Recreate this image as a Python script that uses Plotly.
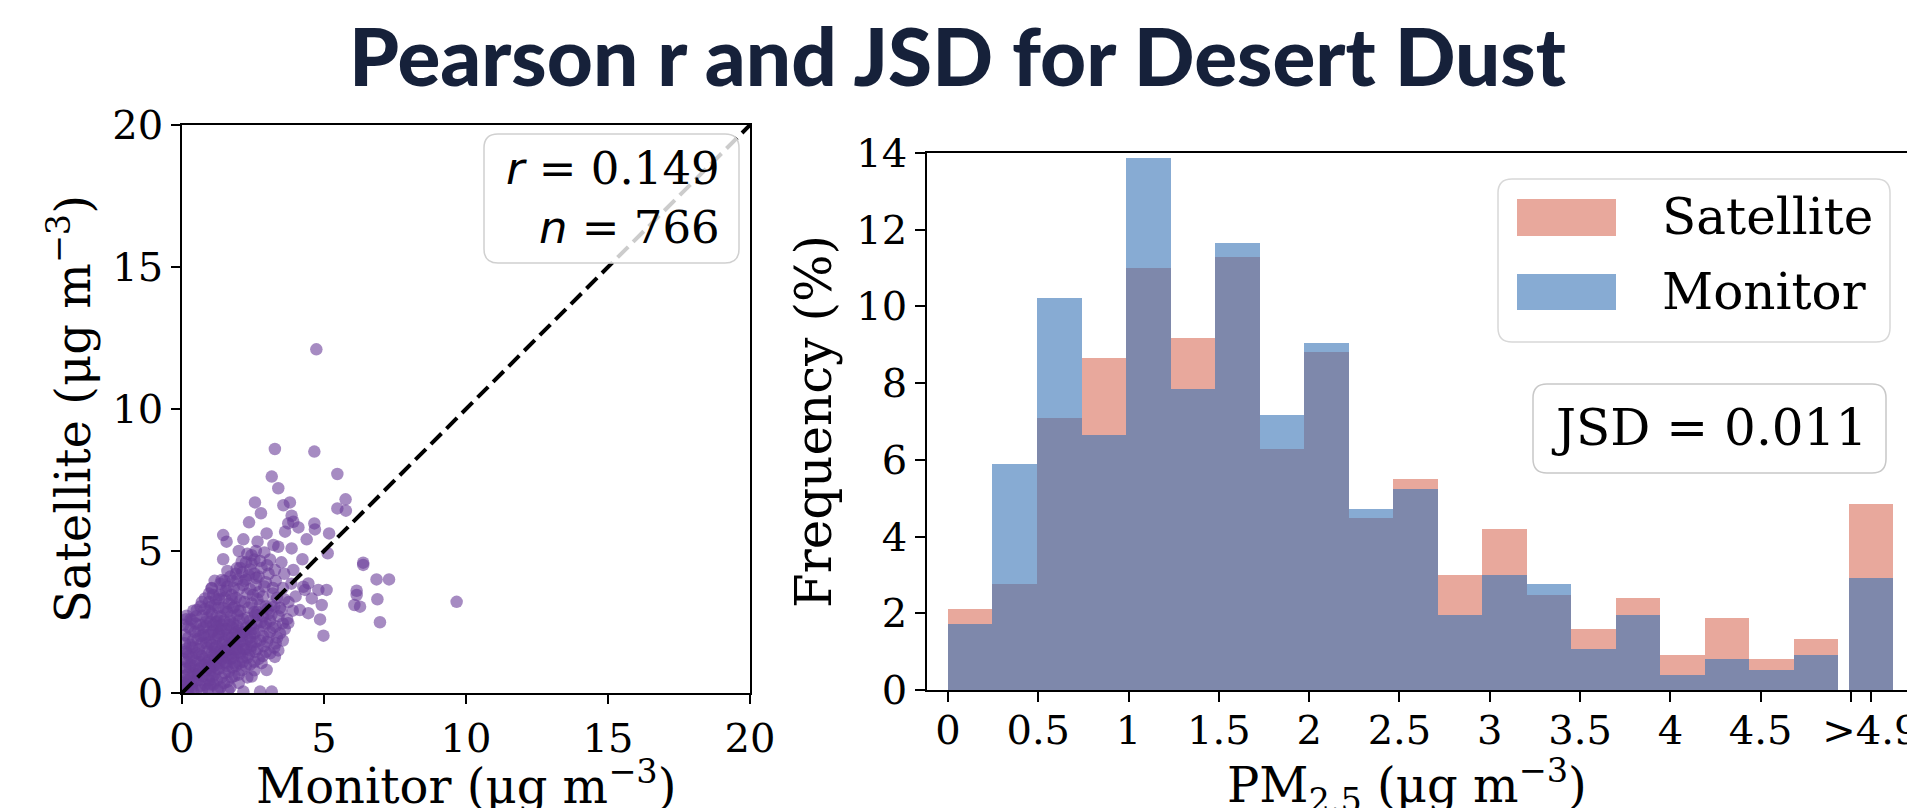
import plotly.graph_objects as go

# ---------------- data ----------------
# histogram (percent per bin), bins of ~0.2465 ug m-3 from 0, plus overflow bin ">4.9"
bin_width = 0.2465
satellite_pct = [2.10, 2.76, 7.09, 8.66, 10.99, 9.18, 11.28, 6.28, 8.80, 4.48,
                 5.51, 3.01, 4.19, 2.47, 1.58, 2.39, 0.92, 1.87, 0.82, 1.33]
monitor_pct = [1.72, 5.90, 10.22, 6.66, 13.88, 7.85, 11.65, 7.18, 9.04, 4.71,
               5.23, 1.96, 3.01, 2.76, 1.06, 1.96, 0.38, 0.82, 0.53, 0.92]
overflow_center = 5.11
satellite_overflow = 4.85
monitor_overflow = 2.91
hist_tickvals = [0, 0.5, 1, 1.5, 2, 2.5, 3, 3.5, 4, 4.5, 5.11]
hist_ticktext = ["0", "0.5", "1", "1.5", "2", "2.5", "3", "3.5", "4", "4.5", ">4.9"]
hist_minor_tick = [5.0]

# scatter (monitor, satellite) pairs in ug m-3
points_core = [
    (0.05, 0.10), (0.12, 0.30), (0.20, 0.05), (0.25, 0.45), (0.08, 0.60), (0.35, 0.20), (0.40, 0.70),
    (0.15, 0.85), (0.30, 1.00), (0.05, 1.20), (0.50, 0.10), (0.55, 0.45), (0.60, 0.85), (0.45, 1.15),
    (0.20, 1.40), (0.10, 1.75), (0.35, 1.60), (0.10, 2.05), (0.30, 2.25), (0.05, 2.40),
    (0.65, 0.25), (0.75, 0.60), (0.80, 1.00), (0.70, 1.30), (0.60, 1.55), (0.55, 1.90), (0.45, 2.15),
    (0.65, 2.40), (0.50, 2.70), (0.75, 2.05),
    (0.90, 0.15), (0.95, 0.45), (1.00, 0.80), (0.95, 1.15), (0.90, 1.45), (0.85, 1.75), (0.95, 2.05),
    (0.85, 2.35), (0.90, 2.65), (0.80, 2.95), (0.95, 3.20),
    (1.10, 0.30), (1.15, 0.65), (1.20, 1.00), (1.10, 1.30), (1.15, 1.60), (1.20, 1.90), (1.10, 2.20),
    (1.20, 2.50), (1.05, 2.80), (1.15, 3.10), (1.10, 3.45), (1.05, 3.70),
    (1.35, 0.20), (1.40, 0.55), (1.30, 0.85), (1.40, 1.20), (1.35, 1.50), (1.45, 1.80), (1.30, 2.10),
    (1.40, 2.40), (1.35, 2.70), (1.45, 3.00), (1.30, 3.30), (1.40, 3.60), (1.50, 3.95),
    (1.60, 0.40), (1.65, 0.75), (1.55, 1.05), (1.70, 1.35), (1.60, 1.65), (1.65, 1.95), (1.55, 2.25),
    (1.70, 2.55), (1.60, 2.85), (1.65, 3.15), (1.75, 3.45), (1.60, 3.75), (1.70, 4.10),
    (1.85, 0.60), (1.90, 0.95), (1.80, 1.25), (1.95, 1.55), (1.85, 1.85), (1.90, 2.15), (1.80, 2.45),
    (1.95, 2.75), (1.85, 3.05), (1.90, 3.35), (2.00, 3.65), (1.95, 4.00), (2.05, 4.40),
    (2.10, 0.80), (2.15, 1.10), (2.05, 1.40), (2.20, 1.70), (2.10, 2.00), (2.25, 2.30), (2.15, 2.60),
    (2.05, 2.90), (2.20, 3.20), (2.30, 3.50), (2.15, 3.80), (2.35, 4.15), (2.45, 4.55),
    (2.40, 1.00), (2.35, 1.35), (2.45, 1.65), (2.40, 1.95), (2.50, 2.25), (2.40, 2.55), (2.55, 2.85),
    (2.45, 3.15), (2.50, 3.45), (2.60, 3.80), (2.55, 4.20),
    (2.70, 1.20), (2.65, 1.55), (2.75, 1.85), (2.70, 2.20), (2.80, 2.50), (2.65, 2.85), (2.75, 3.10),
    (2.85, 3.40), (2.90, 3.75),
    (2.95, 1.45), (3.00, 1.80), (3.10, 2.15), (2.95, 2.45), (3.05, 2.80), (3.15, 3.10), (3.20, 3.50),
    (3.25, 1.60), (3.35, 1.95), (3.30, 2.35), (3.40, 2.70), (3.45, 3.00),
]
points_dense = [
    (0.10, 0.25), (0.20, 0.65), (0.28, 0.90), (0.18, 1.10), (0.40, 0.40), (0.42, 0.95), (0.25, 1.30),
    (0.38, 1.85), (0.22, 1.95), (0.55, 0.65), (0.62, 1.10), (0.50, 1.40), (0.68, 1.75), (0.58, 2.20),
    (0.70, 0.45), (0.82, 0.30), (0.85, 0.80), (0.78, 1.20), (0.88, 1.60), (0.80, 1.95), (0.75, 2.30),
    (0.98, 0.60), (1.02, 1.00), (1.05, 1.40), (0.98, 1.80), (1.05, 2.15), (1.00, 2.50), (0.95, 2.90),
    (1.22, 0.45), (1.25, 0.85), (1.28, 1.25), (1.22, 1.65), (1.28, 2.00), (1.25, 2.35), (1.22, 2.70),
    (1.28, 3.00), (1.20, 3.30),
    (1.48, 0.35), (1.50, 0.70), (1.52, 1.10), (1.48, 1.45), (1.52, 1.85), (1.50, 2.20), (1.48, 2.55),
    (1.55, 2.95), (1.50, 3.35),
    (1.75, 0.55), (1.78, 0.90), (1.72, 1.20), (1.80, 1.55), (1.75, 1.95), (1.78, 2.30), (1.72, 2.70),
    (1.80, 3.00), (1.75, 3.30),
    (2.00, 0.65), (2.02, 1.05), (1.98, 1.45), (2.05, 1.80), (2.00, 2.20), (2.02, 2.55), (1.98, 2.90),
    (2.05, 3.25),
    (2.25, 0.95), (2.30, 1.25), (2.25, 1.55), (2.32, 1.90), (2.28, 2.20), (2.30, 2.65), (2.35, 3.00),
    (2.55, 1.10), (2.58, 1.45), (2.60, 1.80), (2.55, 2.10), (2.62, 2.45), (2.58, 2.75),
    (2.85, 1.30), (2.88, 1.65), (2.85, 2.00), (2.90, 2.35),
]
points_dense2 = [
    (0.15, 0.45), (0.32, 0.55), (0.48, 0.80), (0.35, 1.25), (0.15, 1.55), (0.28, 1.70), (0.45, 1.60),
    (0.62, 1.35), (0.72, 0.95), (0.88, 1.05), (1.08, 0.55), (1.12, 0.95), (1.18, 1.45), (1.05, 1.70),
    (1.15, 2.05), (1.10, 2.40), (1.32, 1.05), (1.38, 1.35), (1.42, 1.70), (1.38, 2.25), (1.58, 0.95),
    (1.62, 1.25), (1.65, 1.55), (1.60, 2.05), (1.66, 2.40), (1.85, 1.05), (1.88, 1.40), (1.92, 1.75),
    (1.88, 2.05), (1.95, 2.35), (2.12, 1.25), (2.18, 1.55), (2.12, 1.85), (2.18, 2.15), (2.40, 1.50),
    (2.45, 1.80), (2.42, 2.10), (0.65, 2.00), (0.85, 2.50), (1.30, 2.55), (0.05, 0.35), (0.22, 0.20),
    (0.08, 0.90), (0.40, 0.05), (0.70, 0.10), (1.00, 0.30), (1.25, 0.15), (0.30, 2.60), (1.55, 3.60),
    (1.82, 3.70), (2.25, 4.00), (2.70, 3.55), (2.95, 3.05), (3.10, 2.55),
]
points_dense3 = [
    (2.25, 4.60), (2.55, 4.70), (2.80, 4.40), (3.05, 4.20), (3.30, 3.95), (3.55, 3.70), (3.60, 3.30),
    (3.50, 2.90), (3.55, 2.45), (3.45, 2.10), (3.30, 1.75), (3.10, 1.40), (2.80, 1.05), (2.55, 0.80),
    (2.30, 0.55), (2.00, 0.35), (1.70, 0.20), (2.40, 4.35), (2.70, 4.10), (2.95, 3.90), (3.20, 3.70),
    (3.35, 3.35), (3.25, 3.05), (3.15, 2.75), (3.20, 2.30), (3.05, 1.95), (2.85, 2.70), (2.65, 3.30),
    (2.40, 3.65), (2.20, 3.95), (1.90, 4.20), (1.60, 4.30), (1.35, 3.85), (1.15, 3.95), (0.95, 3.50),
    (0.70, 3.20), (0.40, 2.90), (0.15, 2.60), (0.32, 0.28), (0.58, 0.66), (0.93, 0.88), (1.18, 1.24),
    (1.53, 1.47), (1.82, 1.77), (2.08, 2.12), (2.43, 2.38), (2.68, 2.74), (3.02, 2.96), (0.12, 1.45),
    (0.48, 2.45), (0.72, 2.72), (1.02, 3.05), (1.32, 3.45), (1.78, 3.95), (2.12, 4.25), (2.62, 4.05),
]
points_fringe = [
    (0.93, 0.14), (1.28, 0.08), (1.63, 0.10), (2.16, 0.05), (2.75, 0.05), (3.16, 0.05),
    (2.45, 0.58), (2.98, 0.81), (3.27, 1.27), (3.39, 1.50), (3.55, 1.85), (3.62, 2.25), (3.70, 2.60),
    (3.74, 2.46), (3.90, 2.90), (3.75, 3.20), (4.00, 3.40), (3.85, 3.85), (4.45, 3.86), (4.33, 3.63),
    (2.30, 4.90), (2.60, 5.00), (2.90, 4.95), (3.10, 4.70), (2.00, 5.00), (3.50, 4.60), (3.60, 4.20),
    (3.00, 4.50), (2.75, 4.65), (2.45, 4.85), (2.10, 4.62), (1.93, 4.39), (1.40, 3.98), (1.04, 3.68),
    (0.81, 3.33), (0.52, 2.92), (0.22, 2.33), (0.35, 2.55), (0.65, 3.05),
]
points_outer = [
    (4.73, 12.10), (3.27, 8.59), (4.66, 8.50), (3.16, 7.62), (5.47, 7.71), (3.39, 7.21), (2.57, 6.71),
    (2.78, 6.33), (3.57, 6.61), (3.80, 6.71), (5.76, 6.82), (5.47, 6.50), (5.77, 6.42), (3.86, 6.24),
    (3.92, 6.03), (3.74, 5.97), (4.10, 5.83), (3.63, 5.68), (2.36, 6.01), (4.66, 5.97), (4.68, 5.76),
    (5.18, 5.62), (1.45, 5.56), (1.57, 5.33), (2.16, 5.41), (2.98, 5.62), (2.66, 5.33), (3.22, 5.21),
    (3.39, 5.15), (3.86, 5.09), (4.39, 5.41), (5.13, 4.92), (1.45, 4.71), (4.24, 4.71), (6.38, 4.59),
    (6.38, 4.51), (3.27, 4.33), (3.92, 4.33), (6.85, 4.00), (7.29, 4.00), (6.15, 3.60), (6.15, 3.45),
    (6.07, 3.10), (6.27, 3.04), (6.88, 3.30), (6.97, 2.49), (4.98, 2.02), (4.86, 2.59), (4.45, 2.81),
    (4.15, 2.92), (4.92, 3.10), (5.09, 3.63), (4.80, 3.63), (4.57, 3.33), (4.27, 3.74), (9.67, 3.21),
    (0.16, 2.72),
]
one_to_one = [0, 20]
pearson_r = "0.149"
n_points = "766"
jsd_value = "0.011"

# ---------------- styling ----------------
OFF = 8                      # page body margin in the browser
W, H = 1915 - OFF, 808 - OFF
SERIF = "DejaVu Serif"
TICK = dict(family=SERIF, size=40, color="black")
LABEL = dict(family=SERIF, size=48, color="black")
SAT_COLOR = "rgba(217,110,90,0.6)"
MON_COLOR = "rgba(55,115,182,0.6)"
DOT_COLOR = "rgba(106,61,154,0.6)"


def fx(p):
    return (p - OFF) / W


def fy(p):
    return 1 - (p - OFF) / H


def rounded(x0, y0, x1, y1, rx, ry):
    return (f"M {x0+rx},{y0} L {x1-rx},{y0} Q {x1},{y0} {x1},{y0+ry} "
            f"L {x1},{y1-ry} Q {x1},{y1} {x1-rx},{y1} L {x0+rx},{y1} "
            f"Q {x0},{y1} {x0},{y1-ry} L {x0},{y0+ry} Q {x0},{y0} {x0+rx},{y0} Z")


def paper_box(l, t, r, b, rad=14):
    return rounded(fx(l), fy(b), fx(r), fy(t), rad / W, rad / H)


fig = go.Figure()

all_pts = points_core + points_dense + points_dense2 + points_dense3 + points_fringe + points_outer
fig.add_trace(go.Scatter(
    x=[p[0] for p in all_pts], y=[p[1] for p in all_pts], mode="markers",
    marker=dict(size=12.5, color=DOT_COLOR, line=dict(width=0)),
    xaxis="x", yaxis="y", showlegend=False, hoverinfo="skip"))
fig.add_trace(go.Scatter(
    x=one_to_one, y=one_to_one, mode="lines",
    line=dict(color="black", width=4, dash="15px,7px"),
    xaxis="x", yaxis="y", showlegend=False, hoverinfo="skip"))

centers = [bin_width * (i + 0.5) for i in range(len(satellite_pct))] + [overflow_center]
fig.add_trace(go.Bar(
    x=centers, y=satellite_pct + [satellite_overflow], width=bin_width, name="Satellite",
    marker=dict(color=SAT_COLOR, line=dict(width=0)), xaxis="x2", yaxis="y2", showlegend=False))
fig.add_trace(go.Bar(
    x=centers, y=monitor_pct + [monitor_overflow], width=bin_width, name="Monitor",
    marker=dict(color=MON_COLOR, line=dict(width=0)), xaxis="x2", yaxis="y2", showlegend=False))

axis_common = dict(showline=True, linecolor="black", linewidth=1.6, mirror=True,
                   ticks="outside", tickwidth=1.6, tickcolor="black", automargin=False,
                   showgrid=False, zeroline=False, tickfont=TICK, ticklabeloverflow="allow")

fig.update_layout(
    width=W, height=H, margin=dict(l=0, r=0, t=0, b=0, autoexpand=False),
    plot_bgcolor="white", paper_bgcolor="white", barmode="overlay", bargap=0,
    title=dict(text="Pearson r and JSD for Desert Dust", x=0.5 - OFF / 2 / W, xanchor="center",
               y=1 - 50 / H, yanchor="middle", automargin=False,
               font=dict(family="Lato Black, Lato", size=80, color="#16213a", weight=900)),
    xaxis=dict(domain=[fx(182), fx(750)], range=[0, 20], tickvals=[0, 5, 10, 15, 20],
               ticklen=9, anchor="y", **axis_common),
    yaxis=dict(domain=[fy(693), fy(125)], range=[0, 20], tickvals=[0, 5, 10, 15, 20],
               ticklen=9, anchor="x",
               title=dict(text="Satellite (μg m<sup>−3</sup>)", font=LABEL, standoff=6),
               **axis_common),
    xaxis2=dict(domain=[fx(927), fx(1914)], range=[-0.116, 5.349], tickvals=hist_tickvals,
                ticktext=hist_ticktext, ticklen=10, anchor="y2", ticklabelstandoff=-6,
                minor=dict(tickvals=hist_minor_tick, ticks="outside", ticklen=10,
                           tickwidth=1.6, tickcolor="black", showgrid=False),
                **axis_common),
    yaxis2=dict(domain=[fy(690), fy(153)], range=[0, 14], tickvals=list(range(0, 15, 2)),
                ticklen=10, anchor="x2",
                title=dict(text="Frequency (%)", font=dict(family=SERIF, size=50, color="black"),
                           standoff=9),
                **axis_common),
)

shapes = []
# r / n box on scatter
shapes.append(dict(type="path", xref="paper", yref="paper", layer="above",
                   path=paper_box(484, 134, 739, 263),
                   fillcolor="rgba(255,255,255,0.8)", line=dict(color="#d0d0d0", width=1.5)))
# legend box
shapes.append(dict(type="path", xref="paper", yref="paper", layer="above",
                   path=paper_box(1498, 179, 1890, 342),
                   fillcolor="rgba(255,255,255,0.8)", line=dict(color="#d8d8d8", width=1.5)))
# legend swatches
shapes.append(dict(type="rect", xref="paper", yref="paper", layer="above",
                   x0=fx(1517), x1=fx(1616), y0=fy(236), y1=fy(199),
                   fillcolor=SAT_COLOR, line=dict(width=0)))
shapes.append(dict(type="rect", xref="paper", yref="paper", layer="above",
                   x0=fx(1517), x1=fx(1616), y0=fy(310), y1=fy(274),
                   fillcolor=MON_COLOR, line=dict(width=0)))
# JSD box
shapes.append(dict(type="path", xref="paper", yref="paper", layer="above",
                   path=paper_box(1533, 384, 1886, 473),
                   fillcolor="rgba(255,255,255,0.8)", line=dict(color="#c8c8c8", width=1.5)))
fig.update_layout(shapes=shapes)

ann = []
# x-axis titles (placed as text so they may run to the bottom edge as in the original)
ann.append(dict(xref="paper", yref="paper", x=fx(466), y=fy(783), xanchor="center",
                yanchor="middle", showarrow=False, text="Monitor (μg m<sup>−3</sup>)",
                font=LABEL))
ann.append(dict(xref="paper", yref="paper", x=fx(1407), y=fy(785), xanchor="center",
                yanchor="middle", showarrow=False, text="PM<sub>2.5</sub> (μg m<sup>−3</sup>)",
                font=LABEL))
ann.append(dict(xref="paper", yref="paper", x=fx(722), y=fy(198), xanchor="right",
                yanchor="middle", align="right", showarrow=False,
                text=(f"<span style=\"font-family:'DejaVu Sans'\"><i>r</i></span> = {pearson_r}<br>"
                      f"<span style=\"font-family:'DejaVu Sans'\"><i>n</i></span> = {n_points}"),
                font=dict(family=SERIF, size=45, color="black")))
ann.append(dict(xref="paper", yref="paper", x=fx(1660), y=fy(217), xanchor="left",
                yanchor="middle", showarrow=False, text="Satellite",
                font=dict(family=SERIF, size=50, color="black")))
ann.append(dict(xref="paper", yref="paper", x=fx(1660), y=fy(292), xanchor="left",
                yanchor="middle", showarrow=False, text="Monitor",
                font=dict(family=SERIF, size=50, color="black")))
ann.append(dict(xref="paper", yref="paper", x=fx(1709), y=fy(428), xanchor="center",
                yanchor="middle", showarrow=False, text=f"JSD = {jsd_value}",
                font=dict(family=SERIF, size=50, color="black")))
fig.update_layout(annotations=ann)

fig.write_html("out.html")
